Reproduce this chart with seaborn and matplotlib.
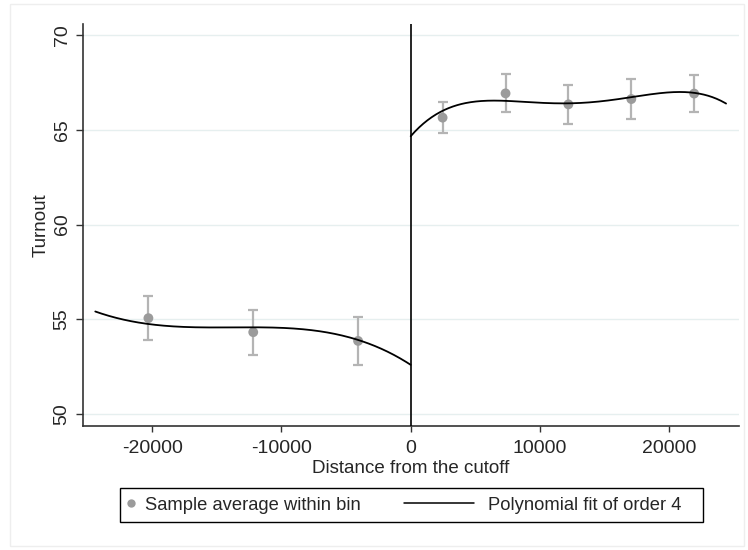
import numpy as np
import pandas as pd
import matplotlib
matplotlib.use("Agg")
import matplotlib.pyplot as plt
import seaborn as sns
from matplotlib.lines import Line2D
from matplotlib.patches import Rectangle
from matplotlib.legend_handler import HandlerLine2D

# Binned sample averages with 95% confidence bounds
bin_x = [-20290, -12180, -4070, 2470, 7340, 12200, 17070, 21930]
bin_mean = [55.06, 54.32, 53.86, 65.64, 66.92, 66.34, 66.62, 66.91]
bin_low = [53.93, 53.14, 52.61, 64.81, 65.94, 65.32, 65.57, 65.92]
bin_high = [56.22, 55.49, 55.11, 66.48, 67.93, 67.38, 67.66, 67.89]

# Fitted values of the turnout curve on each side of the cutoff
left_x = [-24400, -20300, -16000, -12200, -8000, -4100, 0]
left_y = [55.41, 54.76, 54.56, 54.58, 54.46, 53.91, 52.60]
right_x = [0, 1000, 3000, 7300, 12200, 17100, 21000, 24400]
right_y = [64.61, 65.43, 66.10, 66.54, 66.40, 66.71, 67.00, 66.38]

x_ticks = [-20000, -10000, 0, 10000, 20000]
y_ticks = [50, 55, 60, 65, 70]
POLY_ORDER = 4

sns.set_style("white")
plt.rcParams["font.family"] = ["Liberation Sans", "DejaVu Sans"]
FS = 13.5
FS_TICK = 14
FS_LEG = 13.2

W, H = 748, 550
fig = plt.figure(figsize=(W / 100, H / 100), dpi=100)
ax = fig.add_axes([83 / W, 1 - 426 / H, (739 - 83) / W, (426 - 24) / H])

# Order-4 polynomial on each side of the cutoff
fit_frames = []
for side, xs, ys in (("left", left_x, left_y), ("right", right_x, right_y)):
    coef = np.polyfit(xs, ys, POLY_ORDER)
    grid = np.linspace(min(xs), max(xs), 300)
    fit_frames.append(pd.DataFrame({"x": grid, "y": np.polyval(coef, grid), "side": side}))
fit_df = pd.concat(fit_frames, ignore_index=True)

bins = pd.DataFrame({"x": bin_x, "mean": bin_mean, "low": bin_low, "high": bin_high})

# grid lines
for yt in y_ticks:
    ax.axhline(yt, color="#e6efef", lw=1.0, zorder=0)

ax.errorbar(bins["x"], bins["mean"],
            yerr=[bins["mean"] - bins["low"], bins["high"] - bins["mean"]],
            fmt="none", ecolor="#b4b4b4", elinewidth=1.6, capsize=3.4,
            capthick=1.6, zorder=2)
sns.scatterplot(data=bins, x="x", y="mean", ax=ax, color="#9b9b9b", s=50,
                edgecolor="none", zorder=3, legend=False)
sns.lineplot(data=fit_df, x="x", y="y", units="side", estimator=None, ax=ax,
             color="black", lw=1.3, zorder=4, legend=False)
ax.axvline(0, color="black", lw=1.2, zorder=5)

ax.set_xlim(-25350, 25400)
ax.set_ylim(49.37, 70.58)
ax.set_xticks(x_ticks)
ax.set_xticklabels([str(v) for v in x_ticks], fontsize=FS_TICK)
ax.set_yticks(y_ticks)
ax.set_yticklabels([str(v) for v in y_ticks], fontsize=FS_TICK, rotation=90, va="center")
ax.tick_params(axis="x", direction="out", length=4, width=1, color="#333333",
               pad=6, bottom=True)
ax.tick_params(axis="y", direction="out", length=5, width=1, color="#333333",
               pad=4, left=True)
ax.set_xlabel("Distance from the cutoff", fontsize=FS, labelpad=2)
ax.set_ylabel("Turnout", fontsize=FS, labelpad=2.5)

for s in ("top", "right"):
    ax.spines[s].set_visible(False)
for s in ("left", "bottom"):
    ax.spines[s].set_color("#333333")
    ax.spines[s].set_linewidth(1.2)


class WideLineHandler(HandlerLine2D):
    """Draws the legend line reaching left of its handle box."""

    def create_artists(self, legend, orig_handle, xdescent, ydescent,
                       width, height, fontsize, trans):
        y = (height - ydescent) / 2
        line = Line2D([-xdescent - 3.62 * fontsize, -xdescent + 0.2 * fontsize],
                      [y, y], color=orig_handle.get_color(),
                      lw=orig_handle.get_linewidth(), transform=trans)
        return [line]


h_pts = Line2D([], [], marker="o", ls="none", color="#9b9b9b",
               markersize=6, markeredgewidth=0)
h_fit = Line2D([], [], color="black", lw=1.1)
leg = fig.legend([h_pts, h_fit],
                 ["Sample average within bin", "Polynomial fit of order 4"],
                 loc="center left", bbox_to_anchor=(120 / W, 1 - 505 / H),
                 ncol=2, fontsize=FS_LEG, frameon=False,
                 handlelength=0.4, handletextpad=0.56,
                 columnspacing=5.96, borderpad=0.4, borderaxespad=0,
                 numpoints=1, handler_map={h_fit: WideLineHandler()})

# legend frame
fig.patches.append(Rectangle((120 / W, 1 - 522 / H), (703 - 120) / W, 34 / H,
                             transform=fig.transFigure, fill=False,
                             edgecolor="black", lw=1.0))

# faint outer graph-region border
fig.patches.append(Rectangle((10 / W, 4 / H), 734 / W, 542 / H,
                             transform=fig.transFigure, fill=False,
                             edgecolor="#eeeeee", lw=1.0))

fig.savefig("out.png", dpi=100, facecolor="white")
